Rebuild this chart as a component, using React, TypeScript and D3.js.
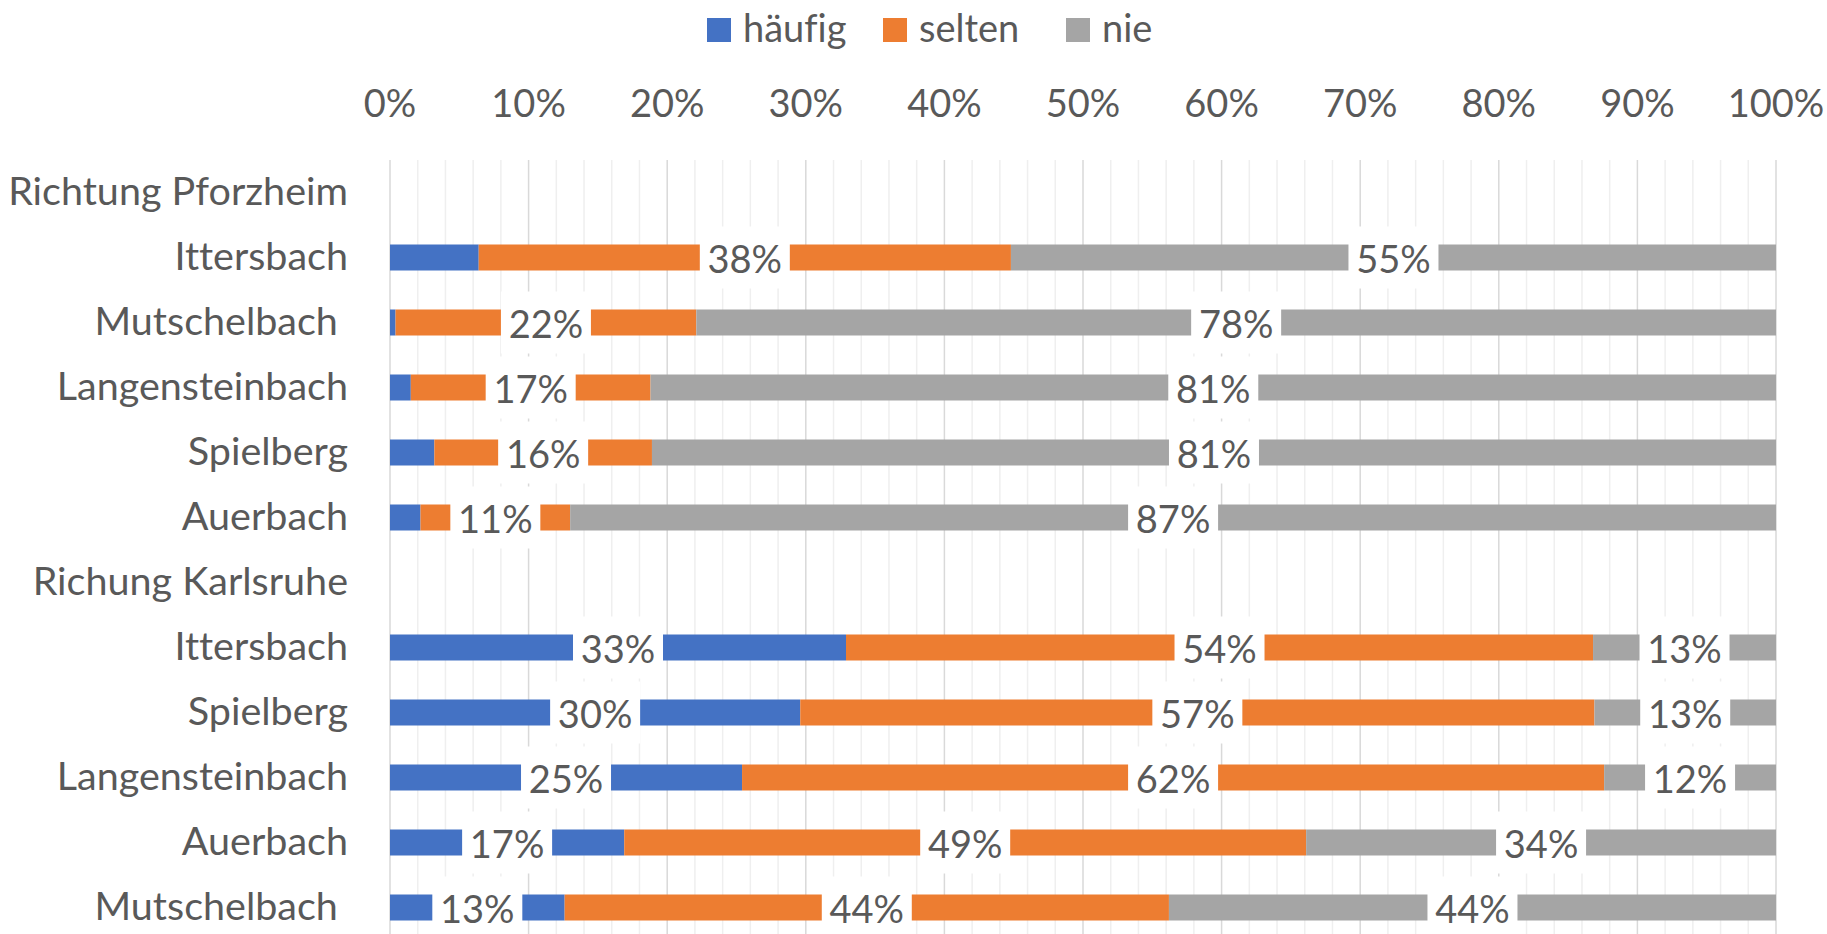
import React from "react";
import * as d3 from "d3";

const categories = [
  "Richtung Pforzheim",
  "Ittersbach",
  "Mutschelbach ",
  "Langensteinbach",
  "Spielberg",
  "Auerbach",
  "Richung Karlsruhe",
  "Ittersbach",
  "Spielberg",
  "Langensteinbach",
  "Auerbach",
  "Mutschelbach ",
];

const haeufig = [null, 0.064, 0.004, 0.015, 0.032, 0.022, null, 0.329, 0.296, 0.254, 0.169, 0.126];
const selten = [null, 0.384, 0.217, 0.173, 0.157, 0.108, null, 0.539, 0.573, 0.622, 0.492, 0.436];
const nie = [null, 0.552, 0.779, 0.812, 0.811, 0.87, null, 0.132, 0.131, 0.124, 0.339, 0.438];

const seriesNames = ["häufig", "selten", "nie"];
const seriesColors = ["#4472C4", "#ED7D31", "#A5A5A5"];
const tickValues = [0, 0.1, 0.2, 0.3, 0.4, 0.5, 0.6, 0.7, 0.8, 0.9, 1.0];

const W = 1827;
const H = 934;
const FONT = "Lato, 'Open Sans', sans-serif";
const FS = 38;
const FS_CAT = 39.5;
const TEXT = "#595959";

export default function App() {
  const x = d3.scaleLinear().domain([0, 1]).range([390, 1776]);
  const idx = d3.range(categories.length);
  const y = d3
    .scaleBand<number>()
    .domain(idx)
    .range([160, 940])
    .paddingInner(0.6)
    .paddingOuter(0.3);

  const table = idx.map((i) => ({
    i,
    "häufig": haeufig[i] ?? 0,
    selten: selten[i] ?? 0,
    nie: nie[i] ?? 0,
    empty: haeufig[i] == null,
  }));
  const stacked = d3.stack<any>().keys(seriesNames)(table);
  const fmt = d3.format(".0%");
  const minorTicks = d3.range(0, 51).map((k) => k / 50);
  const bw = y.bandwidth();

  const legendX = [707, 883, 1066];

  const labels: any[] = [];
  stacked.forEach((s) => {
    s.forEach((d: any) => {
      const row = d.data;
      const v = d[1] - d[0];
      if (row.empty || v < 0.1) return;
      labels.push({
        key: s.key + row.i,
        cx: x((d[0] + d[1]) / 2),
        cy: (y(row.i) as number) + bw / 2,
        text: fmt(v),
      });
    });
  });

  return (
    <svg
      width={W}
      height={H}
      style={{ position: "absolute", left: 0, top: 0, background: "#fff", fontVariantLigatures: "none" }}
      fontFamily={FONT}
    >
      <rect x={0} y={0} width={W} height={H} fill="#fff" />
      {/* legend */}
      {seriesNames.map((n, k) => (
        <g key={n}>
          <rect x={legendX[k]} y={18} width={24} height={24} fill={seriesColors[k]} />
          <text x={legendX[k] + 36} y={42} fontSize={FS} fill={TEXT}>
            {n}
          </text>
        </g>
      ))}
      {/* tick labels */}
      {tickValues.map((t) => (
        <text key={t} x={x(t)} y={117} fontSize={FS} fill={TEXT} textAnchor="middle">
          {fmt(t)}
        </text>
      ))}
      {/* gridlines */}
      {minorTicks.map((t, k) =>
        k % 5 === 0 ? null : (
          <line key={"m" + k} x1={x(t)} x2={x(t)} y1={160} y2={H} stroke="#efefef" strokeWidth={1.5} />
        )
      )}
      {tickValues.map((t) => (
        <line key={"g" + t} x1={x(t)} x2={x(t)} y1={160} y2={H} stroke="#d9d9d9" strokeWidth={1.5} />
      ))}
      {/* bars */}
      {stacked.map((s, k) => (
        <g key={s.key} fill={seriesColors[k]}>
          {s.map((d: any) =>
            d.data.empty ? null : (
              <rect
                key={d.data.i}
                x={x(d[0])}
                y={y(d.data.i)}
                width={x(d[1]) - x(d[0])}
                height={bw}
              />
            )
          )}
        </g>
      ))}
      {/* data labels */}
      {labels.map((l) => (
        <g key={l.key}>
          <rect x={l.cx - 45} y={l.cy - 31} width={90} height={62} fill="#fff" />
          <text x={l.cx} y={l.cy + 15} fontSize={FS} fill={TEXT} textAnchor="middle">
            {l.text}
          </text>
        </g>
      ))}
      {/* category labels */}
      {categories.map((c, i) => (
        <text
          key={i}
          x={348}
          y={(y(i) as number) + bw / 2 + 12.5}
          fontSize={FS_CAT}
          fill={TEXT}
          textAnchor="end"
          style={{ whiteSpace: "pre" }}
        >
          {c}
        </text>
      ))}
    </svg>
  );
}
